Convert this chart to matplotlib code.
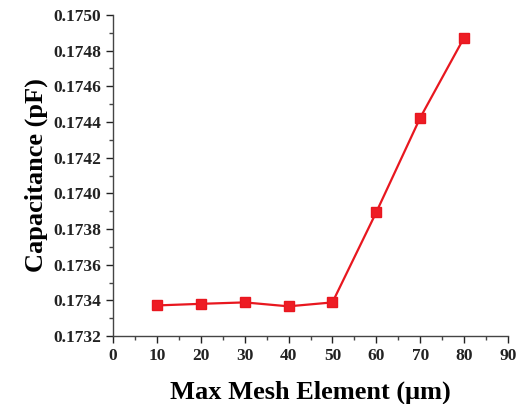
import matplotlib
matplotlib.use("Agg")
import matplotlib.pyplot as plt
from matplotlib.ticker import MultipleLocator, FormatStrFormatter

# mesh convergence study: capacitance vs. max mesh element size
mesh_um = [10, 20, 30, 40, 50, 60, 70, 80]
cap_pf = [0.173372, 0.173381, 0.173389, 0.173367, 0.173389, 0.173895, 0.174424, 0.174873]

plt.rcParams["font.family"] = ["Liberation Serif", "DejaVu Serif"]
plt.rcParams["font.weight"] = "bold"

fig = plt.figure(figsize=(5.16, 4.04), dpi=100)
ax = fig.add_axes([0.219, 0.168, 0.7655, 0.795])

ax.plot(mesh_um, cap_pf, color="#e8171f", lw=1.6, marker="s", ms=6.8,
        mec="#e8171f", mfc="#ee1c24")

ax.set_xlim(0, 90)
ax.set_ylim(0.1732, 0.1750)
ax.xaxis.set_major_locator(MultipleLocator(10))
ax.xaxis.set_minor_locator(MultipleLocator(5))
ax.yaxis.set_major_locator(MultipleLocator(0.0002))
ax.yaxis.set_minor_locator(MultipleLocator(0.0001))
ax.yaxis.set_major_formatter(FormatStrFormatter("%.4f"))

for s in ("top", "right"):
    ax.spines[s].set_visible(False)
for s in ("left", "bottom"):
    ax.spines[s].set_linewidth(1.0)
    ax.spines[s].set_color("#444444")

ax.tick_params(which="major", direction="out", length=5, width=1, labelsize=12.5, colors="#222222")
ax.tick_params(which="minor", direction="out", length=3, width=1, colors="#444444")
for lab in ax.get_xticklabels() + ax.get_yticklabels():
    lab.set_fontweight("bold")

ax.set_xlabel("Max Mesh Element (\u03bcm)", fontsize=19, fontweight="bold", labelpad=12)
ax.set_ylabel("Capacitance (pF)", fontsize=19, fontweight="bold", labelpad=4)

fig.savefig("out.png", dpi=100)
